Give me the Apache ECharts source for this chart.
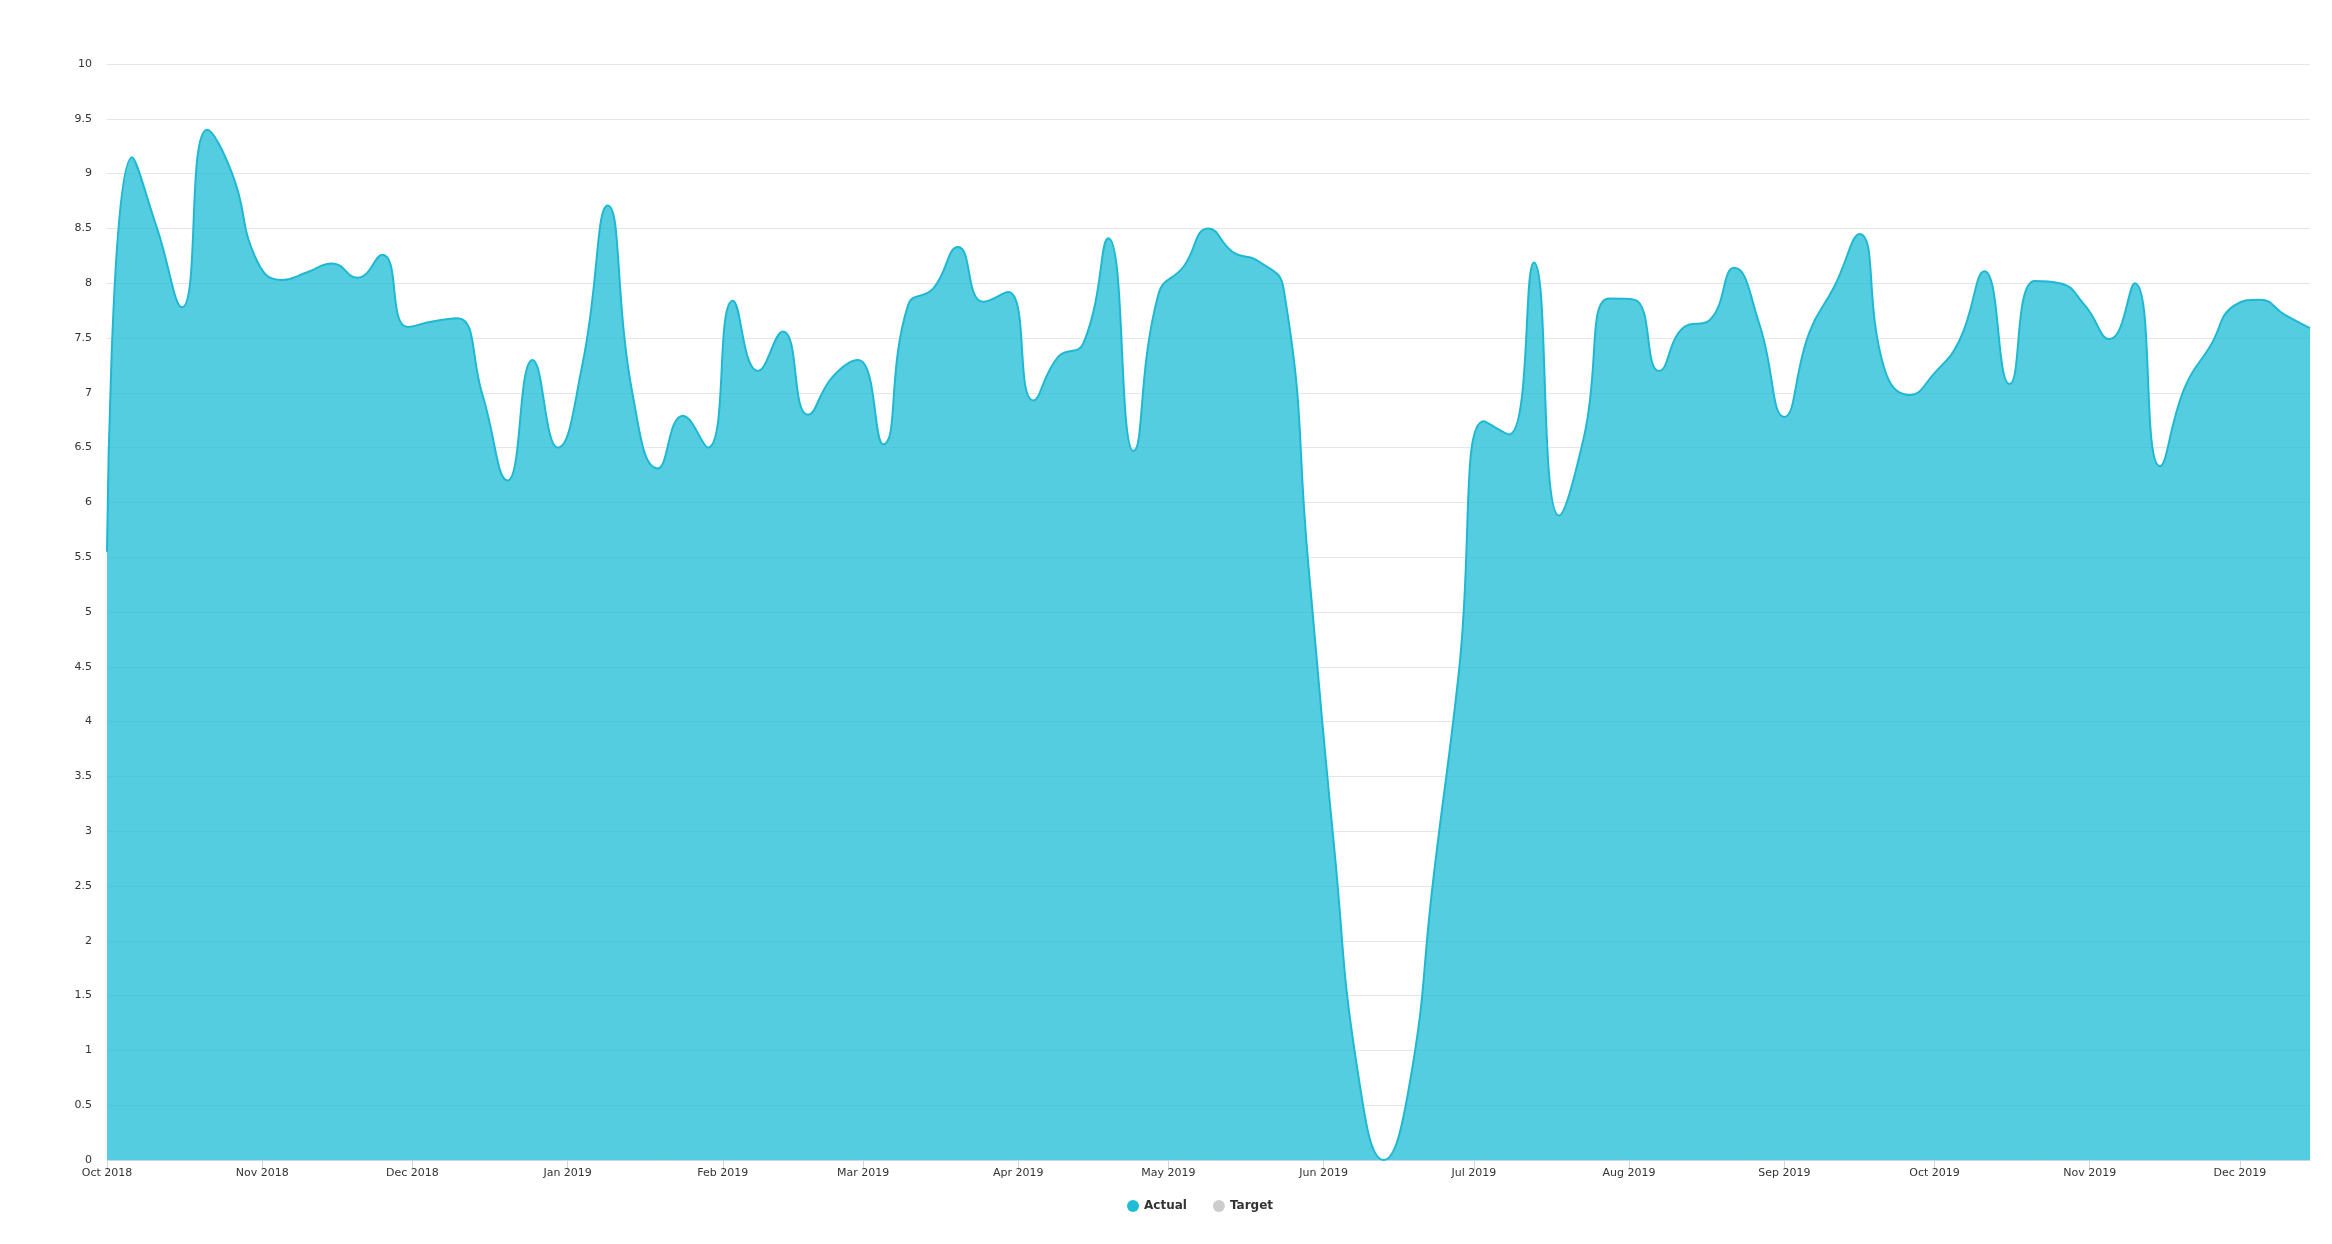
<!DOCTYPE html>
<html>
<head>
<meta charset="utf-8">
<script src="https://cdn.jsdelivr.net/npm/echarts@6/dist/echarts.min.js"></script>
<style>
html,body{margin:0;padding:0;background:#fff;}
#chart{width:2332px;height:1244px;}
</style>
</head>
<body>
<div id="chart"></div>
<script>
// ---- data ----
const dates = [
 '2018-10-01','2018-10-06','2018-10-11','2018-10-16','2018-10-21','2018-10-26','2018-10-31',
 '2018-11-05','2018-11-10','2018-11-15','2018-11-20','2018-11-25','2018-11-30',
 '2018-12-05','2018-12-10','2018-12-15','2018-12-20','2018-12-25','2018-12-30',
 '2019-01-04','2019-01-09','2019-01-14','2019-01-19','2019-01-24','2019-01-29',
 '2019-02-03','2019-02-08','2019-02-13','2019-02-18','2019-02-23','2019-02-28',
 '2019-03-05','2019-03-10','2019-03-15','2019-03-20','2019-03-25','2019-03-30',
 '2019-04-04','2019-04-09','2019-04-14','2019-04-19','2019-04-24','2019-04-29',
 '2019-05-04','2019-05-09','2019-05-14','2019-05-19','2019-05-24','2019-05-29',
 '2019-06-03','2019-06-08','2019-06-13','2019-06-18','2019-06-23','2019-06-28',
 '2019-07-03','2019-07-08','2019-07-13','2019-07-18','2019-07-23','2019-07-28',
 '2019-08-02','2019-08-07','2019-08-12','2019-08-17','2019-08-22','2019-08-27',
 '2019-09-01','2019-09-06','2019-09-11','2019-09-16','2019-09-21','2019-09-26',
 '2019-10-01','2019-10-06','2019-10-11','2019-10-16','2019-10-21','2019-10-26','2019-10-31',
 '2019-11-05','2019-11-10','2019-11-15','2019-11-20','2019-11-25','2019-11-30',
 '2019-12-05','2019-12-10','2019-12-15'
];
const actualValues = [
 5.55, 9.15, 8.5, 7.78, 9.40, 9.0, 8.2,
 8.03, 8.1, 8.18, 8.05, 8.26, 7.6,
 7.65, 7.68, 6.98, 6.2, 7.3, 6.5,
 7.27, 8.71, 6.98, 6.31, 6.79, 6.5,
 7.84, 7.2, 7.56, 6.8, 7.15, 7.3,
 6.53, 7.8, 7.95, 8.33, 7.83, 7.92,
 6.93, 7.33, 7.45, 8.41, 6.47, 7.9,
 8.15, 8.5, 8.28, 8.2, 7.95, 5.4,
 2.9, 0.75, 0, 0.65, 2.6, 4.45,
 6.74, 6.62, 8.19, 5.88, 6.6, 7.86,
 7.85, 7.2, 7.6, 7.66, 8.14, 7.63,
 6.78, 7.55, 7.97, 8.45, 7.22, 6.98,
 7.18, 7.48, 8.11, 7.08, 8.02, 8.0, 7.8,
 7.49, 8.0, 6.33, 7.05, 7.42, 7.8,
 7.85, 7.71, 7.59
];
const targetValues = [];
const seriesNames = ['Actual', 'Target'];
const tickDates = [
 '2018-10-01','2018-11-01','2018-12-01','2019-01-01','2019-02-01','2019-03-01','2019-04-01',
 '2019-05-01','2019-06-01','2019-07-01','2019-08-01','2019-09-01','2019-10-01','2019-11-01','2019-12-01'
];
const tickLabels = [
 'Oct 2018','Nov 2018','Dec 2018','Jan 2019','Feb 2019','Mar 2019','Apr 2019',
 'May 2019','Jun 2019','Jul 2019','Aug 2019','Sep 2019','Oct 2019','Nov 2019','Dec 2019'
];

// ---- helpers ----
function ts(s) { const p = s.split('-').map(Number); return Date.UTC(p[0], p[1]-1, p[2]); }
const tickTs = tickDates.map(ts);
const labelMap = {};
tickTs.forEach((t, i) => { labelMap[t] = tickLabels[i]; });

const chart = echarts.init(document.getElementById('chart'), null, {renderer: 'canvas'});
const font = 'DejaVu Sans';
chart.setOption({
  animation: false,
  backgroundColor: '#ffffff',
  grid: {left: 107, right: 22, top: 64, bottom: 84, containLabel: false},
  legend: {
    data: seriesNames,
    top: 1195,
    left: 1122,
    icon: 'circle',
    itemWidth: 12, itemHeight: 12, itemGap: 26,
    textStyle: {fontFamily: font, fontSize: 12, fontWeight: 'bold', color: '#333333'}
  },
  xAxis: {
    type: 'value',
    min: ts(dates[0]),
    max: ts(dates[dates.length - 1]),
    axisLine: {show: true, lineStyle: {color: '#ccd6eb', width: 1}},
    axisTick: {show: true, length: 10, lineStyle: {color: '#ccd6eb'}, customValues: tickTs},
    axisLabel: {
      customValues: tickTs,
      formatter: v => labelMap[v] || '',
      fontFamily: font, fontSize: 11, color: '#333333', margin: 8
    },
    splitLine: {show: false}
  },
  yAxis: {
    type: 'value',
    min: 0, max: 10, interval: 0.5,
    axisLine: {show: false},
    axisTick: {show: false},
    axisLabel: {fontFamily: font, fontSize: 11, color: '#333333', margin: 15},
    splitLine: {lineStyle: {color: '#e6e6e6', width: 1}}
  },
  series: [
    {
      name: seriesNames[0],
      type: 'line',
      smooth: true,
      symbol: 'none',
      color: '#20bdd6',
      lineStyle: {color: '#1fb8d2', width: 2},
      areaStyle: {color: '#20bdd6', opacity: 0.76},
      data: dates.map((d, i) => [ts(d), actualValues[i]])
    },
    {
      name: seriesNames[1],
      type: 'line',
      color: '#cccccc',
      symbol: 'none',
      data: targetValues
    }
  ]
});
</script>
</body>
</html>
